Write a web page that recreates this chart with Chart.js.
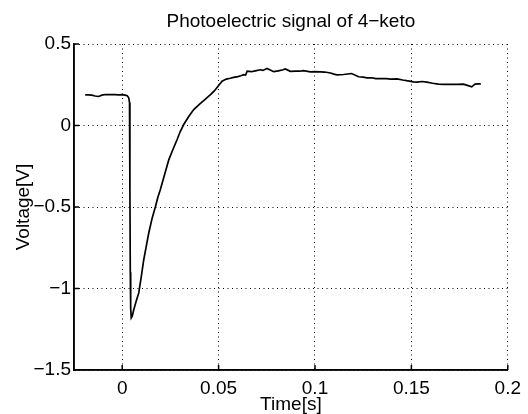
<!DOCTYPE html>
<html>
<head>
<meta charset="utf-8">
<script src="https://cdn.jsdelivr.net/npm/chart.js@4"></script>
<style>
  body { margin: 0; background: #fff; }
  canvas { display: block; }
</style>
</head>
<body>
<canvas id="myChart" width="528" height="414"></canvas>
<script>
// time axis values [s]
const times = [
  -0.0192, -0.0175, -0.0158, -0.014, -0.0123, -0.0105, -0.0088, -0.007, -0.005, -0.0036,
  -0.002, 0, 0.0015, 0.0026, 0.0034, 0.0038,
  0.004, 0.0042, 0.0044, 0.0047, 0.0052, 0.006, 0.0072, 0.0086, 0.010, 0.0112,
  0.0125, 0.0138, 0.0155, 0.0173, 0.0185, 0.0198, 0.022, 0.0242, 0.0262, 0.0285,
  0.030, 0.0319, 0.0345, 0.0371, 0.040, 0.043, 0.0458, 0.048, 0.050, 0.0518,
  0.054, 0.056, 0.0578, 0.060, 0.0615, 0.063, 0.064, 0.0648, 0.067, 0.069,
  0.0717, 0.073, 0.0751, 0.0765, 0.0786, 0.081, 0.0834, 0.0846, 0.0872, 0.090,
  0.092, 0.094, 0.0976, 0.1, 0.1027, 0.105, 0.108, 0.1098, 0.1114, 0.1148,
  0.117, 0.119, 0.1226, 0.125, 0.127, 0.1295, 0.1315, 0.1338, 0.137, 0.1395,
  0.1425, 0.1455, 0.149, 0.151, 0.1528, 0.1555, 0.158, 0.161, 0.164, 0.1666,
  0.17, 0.1735, 0.177, 0.179, 0.1813, 0.183, 0.185, 0.186
];

// voltage values [V]
const voltages = [
  0.188, 0.188, 0.186, 0.181, 0.178, 0.186, 0.19, 0.19, 0.189, 0.19,
  0.188, 0.189, 0.186, 0.183, 0.17, 0.14,
  -0.4, -0.9, -1.12, -1.18, -1.17, -1.13, -1.08, -1.027, -0.92, -0.822,
  -0.74, -0.658, -0.57, -0.495, -0.44, -0.393, -0.30, -0.209, -0.15, -0.086,
  -0.04, 0.006, 0.055, 0.098, 0.13, 0.16, 0.19, 0.215, 0.245, 0.272,
  0.285, 0.29, 0.295, 0.30, 0.305, 0.312, 0.31, 0.333, 0.33, 0.335,
  0.342, 0.338, 0.35, 0.342, 0.33, 0.335, 0.342, 0.347, 0.332, 0.334,
  0.333, 0.337, 0.329, 0.33, 0.329, 0.328, 0.322, 0.315, 0.311, 0.313,
  0.316, 0.319, 0.299, 0.297, 0.292, 0.293, 0.288, 0.287, 0.288, 0.284,
  0.286, 0.279, 0.272, 0.268, 0.266, 0.27, 0.266, 0.259, 0.254, 0.252,
  0.253, 0.252, 0.254, 0.246, 0.237, 0.254, 0.255, 0.255
];

const xTicks = [0, 0.05, 0.1, 0.15, 0.2];
const yTicks = [-1.5, -1, -0.5, 0, 0.5];

const fontFamily = '"Liberation Sans", Arial, Helvetica, sans-serif';
const points = times.map((t, i) => ({ x: t, y: voltages[i] }));

// tick label text: matlab style minus sign
const fmt = v => String(v).replace('-', '\u2212');

// solid left/bottom axis lines plus small inward tick marks
const innerTicks = {
    id: 'innerTicks',
    afterDraw(chart) {
        const c = chart.ctx;
        const area = chart.chartArea;
        const xs = chart.scales.x;
        const ys = chart.scales.y;
        c.save();
        c.strokeStyle = '#000';
        c.lineWidth = 1.5;
        c.setLineDash([]);
        c.beginPath();
        c.moveTo(area.left, area.top);
        c.lineTo(area.left, area.bottom);
        c.lineTo(area.right, area.bottom);
        xTicks.forEach(v => {
            const px = xs.getPixelForValue(v);
            c.moveTo(px, area.bottom);
            c.lineTo(px, area.bottom - 5);
        });
        yTicks.forEach(v => {
            const py = ys.getPixelForValue(v);
            c.moveTo(area.left, py);
            c.lineTo(area.left + 5, py);
        });
        c.stroke();
        c.restore();
    }
};

const ctx = document.getElementById('myChart');
const chart = new Chart(ctx, {
    type: 'line',
    data: {
        datasets: [{
            data: points,
            borderColor: '#000',
            borderWidth: 1.7,
            pointRadius: 0,
            tension: 0,
            fill: false
        }]
    },
    options: {
        responsive: false,
        animation: false,
        layout: { padding: { left: 0, right: 20, top: 0, bottom: 0 } },
        plugins: {
            legend: { display: false },
            tooltip: { enabled: false },
            title: { display: false }
        },
        scales: {
            x: {
                type: 'linear',
                min: -0.025,
                max: 0.2,
                afterBuildTicks: scale => { scale.ticks = xTicks.map(v => ({ value: v })); },
                afterFit: scale => { scale.height = 44; },
                ticks: {
                    color: '#000',
                    font: { family: fontFamily, size: 19 },
                    padding: 7,
                    maxRotation: 0,
                    callback: v => fmt(v)
                },
                grid: {
                    color: '#000',
                    lineWidth: 1,
                    drawTicks: false
                },
                border: { display: true, color: '#000', width: 1.5, dash: [1, 3.5] },
                title: {
                    display: true,
                    text: 'Time[s]',
                    color: '#000',
                    font: { family: fontFamily, size: 19, lineHeight: 1 },
                    padding: { top: 0, bottom: 0 }
                }
            },
            // top axis only carries the chart title, centred over the plot
            top: {
                type: 'linear',
                position: 'top',
                min: -0.025,
                max: 0.2,
                afterFit: scale => { scale.height = 44; },
                ticks: { display: false },
                grid: { display: false, drawTicks: false },
                border: { display: false },
                title: {
                    display: true,
                    text: 'Photoelectric signal of 4\u2212keto',
                    color: '#000',
                    font: { family: fontFamily, size: 19, lineHeight: 1.2 },
                    padding: { top: 10, bottom: 0 }
                }
            },
            y: {
                min: -1.5,
                max: 0.5,
                afterBuildTicks: scale => { scale.ticks = yTicks.map(v => ({ value: v })); },
                afterFit: scale => { scale.width = 74; },
                ticks: {
                    color: '#000',
                    font: { family: fontFamily, size: 19 },
                    padding: 3,
                    callback: v => fmt(v)
                },
                grid: {
                    color: '#000',
                    lineWidth: 1,
                    drawTicks: false
                },
                border: { display: true, color: '#000', width: 1.5, dash: [1, 3.5] },
                title: {
                    display: true,
                    text: 'Voltage[V]',
                    color: '#000',
                    font: { family: fontFamily, size: 19, lineHeight: 1 },
                    padding: { top: 14, bottom: 0 }
                }
            }
        }
    },
    plugins: [innerTicks]
});
</script>
</body>
</html>
